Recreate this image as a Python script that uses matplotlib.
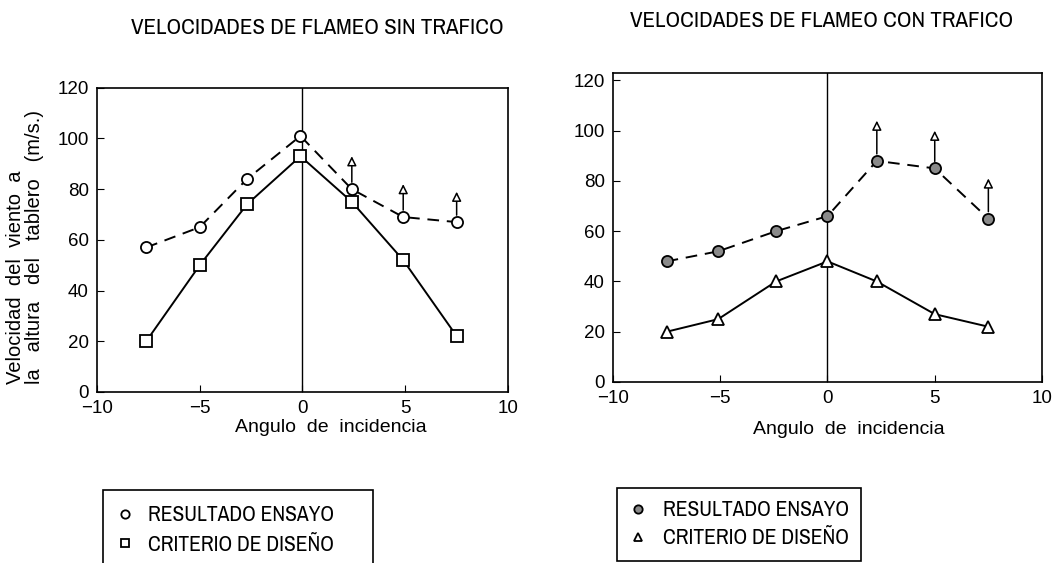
import matplotlib
matplotlib.use("Agg")
import matplotlib.pyplot as plt
from matplotlib.lines import Line2D

# flutter speeds, without traffic
ang_sin = [-7.6, -5.0, -2.7, -0.1, 2.4, 4.9, 7.5]
ensayo_sin = [57, 65, 84, 101, 80, 69, 67]
criterio_sin = [20, 50, 74, 93, 75, 52, 22]
flecha_x_sin = [2.4, 4.9, 7.5]
flecha_de_sin = [80, 69, 67]
flecha_a_sin = [93, 82, 79]

# flutter speeds, with traffic
ang_con = [-7.5, -5.1, -2.4, 0.0, 2.3, 5.0, 7.5]
ensayo_con = [48, 52, 60, 66, 88, 85, 65]
criterio_con = [20, 25, 40, 48, 40, 27, 22]
flecha_x_con = [2.3, 5.0, 7.5]
flecha_de_con = [88, 85, 65]
flecha_a_con = [104, 100, 81]

xticks = [-10, -5, 0, 5, 10]
yticks = [0, 20, 40, 60, 80, 100, 120]

narrow = ["Archivo Narrow", "DejaVu Sans"]
plt.rcParams["font.family"] = ["Liberation Sans", "DejaVu Sans"]

fig = plt.figure(figsize=(10.54, 5.63), dpi=100)
ax1 = fig.add_axes([0.092, 0.304, 0.390, 0.540])
ax2 = fig.add_axes([0.5816, 0.3215, 0.407, 0.549])

dash = (0, (6, 4))


def panel(ax, x, ens, crit, fx, f0, f1, mk_crit, ens_fc, ytop, lab_xy):
    ax.axvline(0, color="black", lw=1.0)
    ax.plot(x, ens, color="black", lw=1.4, ls=dash, marker="o", ms=8,
            mfc=ens_fc, mec="black", mew=1.3)
    ax.plot(x, crit, color="black", lw=1.4, marker=mk_crit, ms=8,
            mfc="white", mec="black", mew=1.3)
    for xi, a, b in zip(fx, f0, f1):
        ax.annotate("", xy=(xi, b), xytext=(xi, a),
                    arrowprops=dict(arrowstyle="-|>", fc="white", ec="black",
                                    lw=1.1, shrinkA=5, shrinkB=0,
                                    mutation_scale=14))
    ax.set_xlim(-10, 10)
    ax.set_ylim(0, ytop)
    ax.set_xticks(xticks)
    ax.set_yticks(yticks)
    ax.tick_params(direction="in", length=5, labelsize=13.5, pad=6)
    for s in ax.spines.values():
        s.set_linewidth(1.2)
    ax.set_xlabel("Angulo  de  incidencia", fontsize=14, va="center")
    ax.xaxis.set_label_coords(*lab_xy)


panel(ax1, ang_sin, ensayo_sin, criterio_sin, flecha_x_sin, flecha_de_sin,
      flecha_a_sin, "s", "white", 120, (0.569, -0.118))
panel(ax2, ang_con, ensayo_con, criterio_con, flecha_x_con, flecha_de_con,
      flecha_a_con, "^", "#8a8a8a", 123, (0.55, -0.155))

ax1.set_ylabel("Velocidad  del  viento  a\n"
               "la   altura   del   tablero   (m/s.)",
               fontsize=14.5, multialignment="left", linespacing=1.0)
ax1.yaxis.set_label_coords(-0.13, 0.475)

fig.text(0.301, 0.951, "VELOCIDADES DE FLAMEO SIN TRAFICO", ha="center",
         va="center", fontsize=16.5, family=narrow)
fig.text(0.779, 0.962, "VELOCIDADES DE FLAMEO CON TRAFICO", ha="center",
         va="center", fontsize=16.5, family=narrow)

# legends below each panel
h_sin = [Line2D([], [], ls="none", marker="o", ms=6, mfc="white", mec="black", mew=1.3),
         Line2D([], [], ls="none", marker="s", ms=6, mfc="white", mec="black", mew=1.3)]
h_con = [Line2D([], [], ls="none", marker="o", ms=6, mfc="#8a8a8a", mec="black", mew=1.3),
         Line2D([], [], ls="none", marker="^", ms=6, mfc="white", mec="black", mew=1.3)]
labels = ["RESULTADO ENSAYO", "CRITERIO DE DISEÑO"]

leg1 = fig.legend(h_sin, labels, loc="upper left", mode="expand",
                  bbox_to_anchor=(103 / 1054, 1 - 490 / 563, 270 / 1054, 0),
                  prop={"family": narrow, "size": 15.5}, fancybox=False,
                  edgecolor="black", framealpha=1, borderpad=0.7,
                  labelspacing=0.46, handlelength=0.6, handletextpad=0.8,
                  borderaxespad=0)
leg1.get_frame().set_linewidth(1.2)
leg2 = fig.legend(h_con, labels, loc="upper left", mode="expand",
                  bbox_to_anchor=(617 / 1054, 1 - 488 / 563, 244 / 1054, 0),
                  prop={"family": narrow, "size": 15.5}, fancybox=False,
                  edgecolor="black", framealpha=1, borderpad=0.58,
                  labelspacing=0.37, handlelength=0.8, handletextpad=0.75,
                  borderaxespad=0)
leg2.get_frame().set_linewidth(1.2)

fig.savefig("out.png", dpi=100)
